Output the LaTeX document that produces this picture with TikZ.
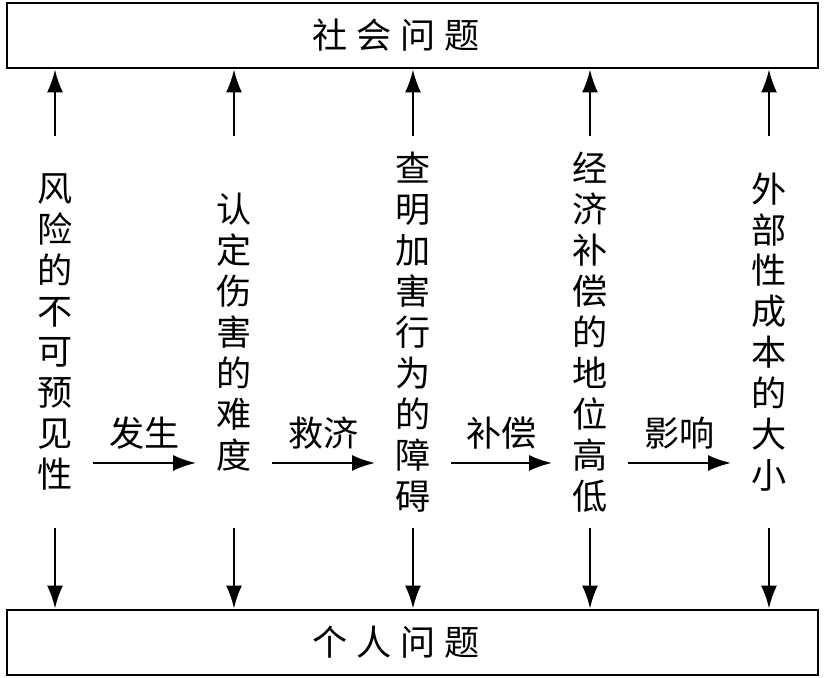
\documentclass[tikz,border=0pt]{standalone}
\usepackage{fontspec}
\setmainfont{Noto Sans CJK SC}
\usepackage{tikz}
\usetikzlibrary{arrows.meta,positioning}

\begin{document}
\begin{tikzpicture}[
    x=0.02cm, y=-0.02cm,
    bigbox/.style={rectangle, draw, line width=1.6pt, minimum width=16.22cm, minimum height=1.3cm, font=\fontsize{20pt}{24pt}\selectfont},
    col/.style={rectangle, align=center, inner xsep=0.4cm, inner ysep=0pt, minimum height=7.84cm, font=\fontsize{20pt}{23.3pt}\selectfont},
    arrow/.style={-{Latex[length=4.6mm,width=3.2mm]}, line width=1.3pt},
    lab/.style={above=4pt, font=\fontsize{20pt}{24pt}\selectfont}
]
    \useasboundingbox (0,0) rectangle (826,678);

    \node[bigbox] (social) at (412.5,35.5) {社\hspace{5pt}会\hspace{5pt}问\hspace{5pt}题\hspace*{19pt}};
    \node[bigbox] (personal) at (412.5,642.5) {个\hspace{5pt}人\hspace{5pt}问\hspace{5pt}题\hspace*{19pt}};

    \node[col] (risk) at (55,332) {风\\险\\的\\不\\可\\预\\见\\性};
    \node[col] (harm) at (234,332) {认\\定\\伤\\害\\的\\难\\度};
    \node[col] (tort) at (413,332) {查\\明\\加\\害\\行\\为\\的\\障\\碍};
    \node[col] (comp) at (590,332) {经\\济\\补\\偿\\的\\地\\位\\高\\低};
    \node[col] (cost) at (769,332) {外\\部\\性\\成\\本\\的\\大\\小};

    \draw[arrow] ([yshift=-2.62cm]risk.east) -- node[lab] {发生} ([yshift=-2.62cm]harm.west);
    \draw[arrow] ([yshift=-2.62cm]harm.east) -- node[lab] {救济} ([yshift=-2.62cm]tort.west);
    \draw[arrow] ([yshift=-2.62cm]tort.east) -- node[lab] {补偿} ([yshift=-2.62cm]comp.west);
    \draw[arrow] ([yshift=-2.62cm]comp.east) -- node[lab] {影响} ([yshift=-2.62cm]cost.west);

    \draw[arrow] (risk.north) -- (risk.north |- social.south);
    \draw[arrow] (harm.north) -- (harm.north |- social.south);
    \draw[arrow] (tort.north) -- (tort.north |- social.south);
    \draw[arrow] (comp.north) -- (comp.north |- social.south);
    \draw[arrow] (cost.north) -- (cost.north |- social.south);

    \draw[arrow] (risk.south) -- (risk.south |- personal.north);
    \draw[arrow] (harm.south) -- (harm.south |- personal.north);
    \draw[arrow] (tort.south) -- (tort.south |- personal.north);
    \draw[arrow] (comp.south) -- (comp.south |- personal.north);
    \draw[arrow] (cost.south) -- (cost.south |- personal.north);
\end{tikzpicture}
\end{document}
